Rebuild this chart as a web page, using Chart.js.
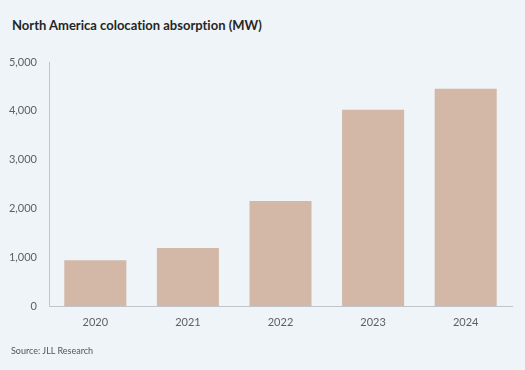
<!DOCTYPE html>
<html>
<head>
<meta charset="utf-8">
<script src="https://cdn.jsdelivr.net/npm/chart.js@4"></script>
<style>
    html, body { margin: 0; padding: 0; background: #eef4f8; }
    #wrap { position: relative; width: 525px; height: 370px; overflow: hidden; }
    #title { position: absolute; left: 12px; top: 17px; font: bold 13px Lato, sans-serif; color: #262626; font-variant-ligatures: none; }
    #source { position: absolute; left: 11px; top: 345px; font: 9px Lato, sans-serif; color: #555; }
    canvas { position: absolute; left: 0; top: 0; }
</style>
</head>
<body>
<div id="wrap">
    <div id="title">North America colocation absorption (MW)</div>
    <canvas id="chart1" width="525" height="370"></canvas>
    <div id="source">Source: JLL Research</div>
</div>
<script>
const years = ["2020", "2021", "2022", "2023", "2024"];
const absorption = [940, 1190, 2150, 4020, 4450];
const yTicks = [0, 1000, 2000, 3000, 4000, 5000];

const ctx = document.getElementById("chart1").getContext("2d");

new Chart(ctx, {
    type: "bar",
    data: {
        labels: years,
        datasets: [
            {
                label: "Absorption (MW)",
                data: absorption,
                backgroundColor: "#d3b8a8",
                borderWidth: 0,
                barPercentage: 0.67,
                categoryPercentage: 1,
            },
        ],
    },
    options: {
        responsive: false,
        animation: false,
        layout: { padding: { top: 62, right: 13, bottom: 0, left: 0 } },
        plugins: {
            legend: { display: false },
            tooltip: { enabled: false },
        },
        scales: {
            x: {
                grid: { display: false, drawTicks: false },
                border: { color: "#bfc5ca", width: 1 },
                ticks: {
                    color: "#5f5f5f",
                    padding: 10,
                    font: { family: "Lato", size: 11 },
                },
                afterFit: (s) => { s.height = 64; },
            },
            y: {
                min: 0,
                max: 5000,
                grid: { display: false, drawTicks: false },
                border: { color: "#bfc5ca", width: 1 },
                afterBuildTicks: (s) => { s.ticks = yTicks.map((v) => ({ value: v })); },
                ticks: {
                    color: "#5f5f5f",
                    padding: 12,
                    font: { family: "Lato", size: 11 },
                    callback: (v) => v.toLocaleString("en-US"),
                },
                afterFit: (s) => { s.width = 49; },
            },
        },
    },
});
</script>
</body>
</html>
